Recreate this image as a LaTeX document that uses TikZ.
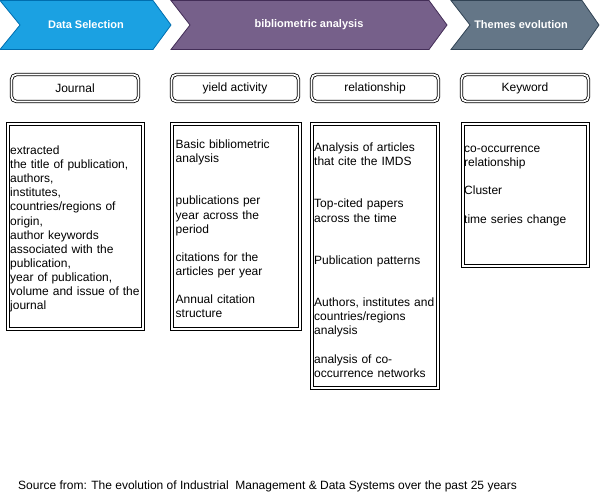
\documentclass[tikz,border=0pt]{standalone}
\usepackage{fontspec}
\setmainfont{Liberation Sans}
\definecolor{selblue}{HTML}{1BA1E2}
\definecolor{selbluedk}{HTML}{006EAF}
\definecolor{bibpurple}{HTML}{76608A}
\definecolor{bibpurpledk}{HTML}{432D57}
\definecolor{themgray}{HTML}{647687}
\definecolor{themgraydk}{HTML}{314354}
\tikzset{
  chevtext/.style={text=white, font=\fontsize{11}{13}\selectfont\bfseries, inner sep=0pt},
  headbox/.style={draw=black, double=white, double distance=1.8pt, line width=0.8pt,
    rounded corners=5pt, minimum width=127pt, minimum height=27pt, inner sep=0pt,
    font=\fontsize{12}{14}\selectfont},
  contentbox/.style={draw=black, double=white, double distance=1.8pt, line width=0.9pt,
    inner sep=0pt},
  boxtext/.style={anchor=north west, inner sep=0pt, text width=150pt, align=left,
    font=\fontsize{12}{14.1}\selectfont},
}
\begin{document}
\begin{tikzpicture}[x=1pt, y=-1pt]
\useasboundingbox (0,0) rectangle (601,496);
% chevrons
\path[fill=selblue, draw=selbluedk, line width=0.8pt]
  (0,0.5) -- (153,0.5) -- (171,25) -- (153,49.5) -- (0,49.5) -- (20,25) -- cycle;
\path[fill=bibpurple, draw=bibpurpledk, line width=0.8pt]
  (171,0.5) -- (429,0.5) -- (447,25) -- (429,49.5) -- (171,49.5) -- (190,25) -- cycle;
\path[fill=themgray, draw=themgraydk, line width=0.8pt]
  (451,0.5) -- (582,0.5) -- (599,25) -- (582,49.5) -- (451,49.5) -- (470,25) -- cycle;
\node[chevtext] (sel) at (86,25) {Data Selection};
\node[chevtext] (bib) at (309,25) {bibliometric analysis};
\node[chevtext] (thm) at (521,25) {Themes evolution};
% header boxes
\node[headbox] (journal) at (75,88) {Journal};
\node[headbox] (yield) at (235,88) {yield activity};
\node[headbox] (rel) at (375,88) {relationship};
\node[headbox] (kw) at (525,88) {Keyword};
% content boxes
\node[contentbox, minimum width=135pt, minimum height=205pt] (b1) at (75.5,226.5) {};
\node[contentbox, minimum width=128pt, minimum height=205pt] (b2) at (236,226.5) {};
\node[contentbox, minimum width=126pt, minimum height=264pt] (b3) at (375,256) {};
\node[contentbox, minimum width=125pt, minimum height=142pt] (b4) at (525.5,195) {};
% texts
\node[boxtext] (t1) at (10,144.5) {\strut extracted\\
the title of publication,\\
authors,\\
institutes,\\
countries/regions of\\
origin,\\
author keywords\\
associated with the\\
publication,\\
year of publication,\\
volume and issue of the\\
journal};
\node[boxtext] (t2) at (175.5,138.5) {\strut Basic bibliometric\\
analysis\\[28.2pt]
publications per\\
year across the\\
period\\[14.1pt]
citations for the\\
articles per year\\[14.1pt]
Annual citation\\
structure};
\node[boxtext] (t3) at (314,141.5) {\strut Analysis of articles\\
that cite the IMDS\\[28.2pt]
Top-cited papers\\
across the time\\[28.2pt]
Publication patterns\\[28.2pt]
Authors, institutes and\\
countries/regions\\
analysis\\[14.1pt]
analysis of co-\\
occurrence networks};
\node[boxtext] (t4) at (464,142.5) {\strut co-occurrence\\
relationship\\[14.1pt]
Cluster\\[14.1pt]
time series change};
% source
\node[anchor=west, inner sep=0pt, font=\fontsize{12}{14}\selectfont] (src) at (18,486)
  {Source from: The evolution of Industrial\ \ Management \& Data Systems over the past 25 years};
\end{tikzpicture}
\end{document}
